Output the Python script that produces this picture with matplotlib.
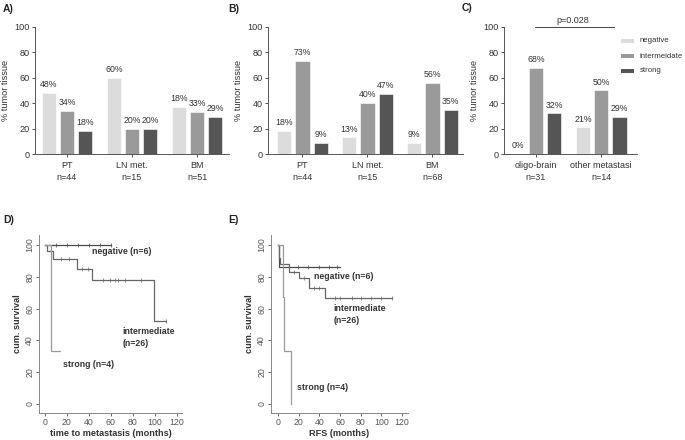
import matplotlib
matplotlib.use("Agg")
import matplotlib.pyplot as plt
import numpy as np
from matplotlib.patches import Rectangle

plt.rcParams['font.family'] = ['Liberation Sans', 'DejaVu Sans']

# ---------------- data ----------------
series_names = ["negative", "intermeidate", "strong"]
bar_colors = ["#dcdcdc", "#9a9a9a", "#555555"]

a_cats = ["PT\nn=44", "LN met.\nn=15", "BM\nn=51"]
a_neg = [48, 60, 37]
a_int = [34, 20, 33]
a_str = [18, 20, 29]
a_lbl_neg = ["48%", "60%", "18%"]
a_lbl_int = ["34%", "20%", "33%"]
a_lbl_str = ["18%", "20%", "29%"]

b_cats = ["PT\nn=44", "LN met.\nn=15", "BM\nn=68"]
b_neg = [18, 13, 9]
b_int = [73, 40, 56]
b_str = [9, 47, 35]
b_lbl_neg = ["18%", "13%", "9%"]
b_lbl_int = ["73%", "40%", "56%"]
b_lbl_str = ["9%", "47%", "35%"]

c_cats = ["oligo-brain\nn=31", "other metastasi\nn=14"]
c_neg = [0, 21]
c_int = [68, 50]
c_str = [32, 29]
c_lbl_neg = ["0%", "21%"]
c_lbl_int = ["68%", "50%"]
c_lbl_str = ["32%", "29%"]
p_text = "p=0.028"

# Kaplan-Meier D
d_neg_t = [0, 60]
d_neg_s = [100, 100]
d_neg_ct = [10, 20, 30, 40, 50, 60]
d_neg_cs = [100, 100, 100, 100, 100, 100]
d_int_t = [0, 2, 7.5, 29, 43, 99, 110]
d_int_s = [100, 96, 91, 85, 78, 52, 52]
d_int_ct = [15, 22, 34, 39, 53, 59, 64, 67, 73, 88, 110]
d_int_cs = [91, 91, 85, 85, 78, 78, 78, 78, 78, 78, 52]
d_str_t = [0, 5, 5.5, 13.5]
d_str_s = [100, 67, 33, 33]

# Kaplan-Meier E
e_neg_t = [0, 1, 60]
e_neg_s = [100, 86, 86]
e_neg_ct = [19, 29, 40, 49, 57]
e_neg_cs = [86, 86, 86, 86, 86]
e_int_t = [0, 0.5, 1.5, 10.5, 20.5, 30, 45, 110]
e_int_s = [100, 92, 88, 83, 79, 73, 66.5, 66.5]
e_int_ct = [15, 25, 35, 40, 55, 60, 72, 80, 90, 100, 110]
e_int_cs = [83, 79, 73, 73, 66.5, 66.5, 66.5, 66.5, 66.5, 66.5, 66.5]
e_str_t = [0, 5, 6, 12.5]
e_str_s = [100, 67, 33, 0]

# ---------------- figure ----------------
W, H = 685, 440
fig = plt.figure(figsize=(W / 100, H / 100), dpi=100)


def ax_px(left, right, top, bottom):
    return fig.add_axes([left / W, 1 - bottom / H, (right - left) / W, (bottom - top) / H])


axis_col = "#555555"
txt_col = "#333333"


def bar_panel(ax, cats, vals, lbls, xlim):
    x = np.arange(len(cats))
    bw, off = 0.22, 0.28
    for i, (v, l, c) in enumerate(zip(vals, lbls, bar_colors)):
        pos = x + (i - 1) * off
        ax.bar(pos, v, width=bw, color=c, edgecolor="white", linewidth=0.4, zorder=2)
        for p, vv, ll in zip(pos, v, l):
            ax.text(p, vv + 3, ll, ha="center", va="bottom", fontsize=6.3, color=txt_col)
    ax.set_xlim(*xlim)
    ax.set_ylim(0, 100)
    ax.set_yticks([0, 20, 40, 60, 80, 100])
    ax.set_xticks(x)
    ax.set_xticklabels(cats, fontsize=6.5, color=txt_col, linespacing=1.5)
    ax.tick_params(axis="y", labelsize=6.6, colors=txt_col, length=2.5, width=0.6, pad=1.5)
    ax.tick_params(axis="x", length=2.5, width=0.6, pad=2.5, colors=txt_col)
    for s in ["top", "right"]:
        ax.spines[s].set_visible(False)
    for s in ["left", "bottom"]:
        ax.spines[s].set_color(axis_col)
        ax.spines[s].set_linewidth(0.7)
    ax.set_ylabel("% tumor tissue", fontsize=6.6, color=txt_col, labelpad=3)


axA = ax_px(35, 229, 27, 154)
bar_panel(axA, a_cats, [a_neg, a_int, a_str], [a_lbl_neg, a_lbl_int, a_lbl_str], (-0.49, 2.49))
axB = ax_px(268, 463, 27, 154)
bar_panel(axB, b_cats, [b_neg, b_int, b_str], [b_lbl_neg, b_lbl_int, b_lbl_str], (-0.53, 2.47))
axC = ax_px(504, 637, 27, 154)
bar_panel(axC, c_cats, [c_neg, c_int, c_str], [c_lbl_neg, c_lbl_int, c_lbl_str], (-0.49, 1.55))

# p-value line
axC.plot([-0.02, 1.19], [100.3, 100.3], color="#444444", lw=0.7, clip_on=False)
axC.text(0.56, 101.5, p_text, ha="center", va="bottom", fontsize=6.5, color=txt_col, clip_on=False)

# legend in C (manual)
for i, (name, col) in enumerate(zip(series_names, bar_colors)):
    yc = 41 + i * 15
    fig.patches.append(Rectangle((621 / W, 1 - (yc + 2.2) / H), 13 / W, 4.4 / H,
                                 transform=fig.transFigure, facecolor=col, edgecolor="none"))
    fig.text(640 / W, 1 - yc / H, name, fontsize=5.6, color=txt_col, va="center", ha="left")

# panel letters
for lab, x, y in [("A)", 3, 9), ("B)", 228, 9), ("C)", 462, 8), ("D)", 3, 220), ("E)", 228, 220)]:
    fig.text(x / W, 1 - y / H, lab, fontsize=7.5, fontweight="bold", color="#222222", va="center")


def km_panel(ax, xlim, curves, labels, xlabel):
    for t, s, col in curves:
        ax.step(t, s, where="post", color=col, lw=0.9)
    for ct, cs, col in labels["cens"]:
        ax.plot(ct, cs, linestyle="none", marker="|", markersize=2.4, mew=0.5, color=col)
    for txt, x, y in labels["text"]:
        ax.text(x, y, txt, fontsize=6.3, fontweight="bold", color="#333333", ha="left", va="center",
                linespacing=1.4)
    ax.set_xlim(*xlim)
    ax.set_ylim(-5.7, 106.3)
    ax.set_xticks([0, 20, 40, 60, 80, 100, 120])
    ax.set_yticks([0, 20, 40, 60, 80, 100])
    ax.tick_params(axis="both", labelsize=6.3, colors="#555555", length=2, width=0.6, pad=1.5)
    for lbl in ax.get_yticklabels():
        lbl.set_rotation(90)
        lbl.set_va("center")
    for s in ["top", "right"]:
        ax.spines[s].set_visible(False)
    for s in ["left", "bottom"]:
        ax.spines[s].set_color("#888888")
        ax.spines[s].set_linewidth(0.7)
    ax.set_ylabel("cum. survival", fontsize=6.6, fontweight="bold", color="#333333", labelpad=2)
    ax.set_xlabel(xlabel, fontsize=6.6, fontweight="bold", color="#333333", labelpad=1.5)


c_neg_line, c_int_line, c_str_line = "#4a4a4a", "#666666", "#9a9a9a"

axD = ax_px(39, 182, 235, 413)
km_panel(axD, (-5.5, 125),
         [(d_neg_t, d_neg_s, c_neg_line), (d_int_t, d_int_s, c_int_line), (d_str_t, d_str_s, c_str_line)],
         {"cens": [(d_neg_ct, d_neg_cs, c_neg_line), (d_int_ct, d_int_cs, c_int_line)],
          "text": [("negative (n=6)", 42.5, 96), ("intermediate\n(n=26)", 71, 42), ("strong (n=4)", 16, 25)]},
         "time to metastasis (months)")

axE = ax_px(271, 408, 235, 413)
km_panel(axE, (-7, 126),
         [(e_neg_t, e_neg_s, c_neg_line), (e_int_t, e_int_s, c_int_line), (e_str_t, e_str_s, c_str_line)],
         {"cens": [(e_neg_ct, e_neg_cs, c_neg_line), (e_int_ct, e_int_cs, c_int_line)],
          "text": [("negative (n=6)", 35, 80.5), ("intermediate\n(n=26)", 53.5, 56.5), ("strong (n=4)", 18.5, 10.3)]},
         "RFS (months)")

fig.savefig("out.png", dpi=100, facecolor="white")
